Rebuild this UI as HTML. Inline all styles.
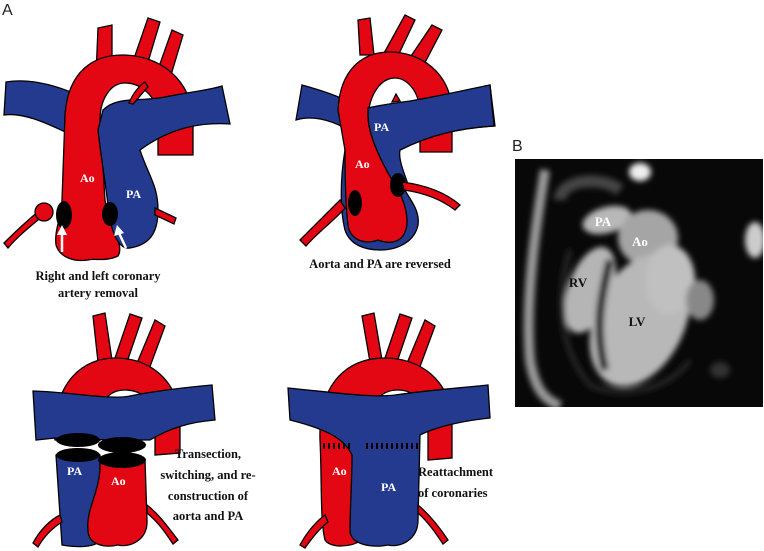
<!DOCTYPE html>
<html><head><meta charset="utf-8"><style>
html,body{margin:0;padding:0;background:#fff;width:764px;height:551px;overflow:hidden}
svg{display:block}
.r{fill:#e30613;stroke:#000;stroke-width:1.3}
.b{fill:#233a8f;stroke:#000;stroke-width:1.3}
.k{fill:#000}
.lbl{font-family:"Liberation Serif",serif;font-weight:bold;font-size:12px;fill:#fff}
.cap{font-family:"Liberation Serif",serif;font-weight:bold;font-size:12.5px;fill:#111}
.big{font-family:"Liberation Sans",sans-serif;font-size:16px;fill:#222}
</style></head><body>
<svg width="764" height="551" viewBox="0 0 764 551" xmlns="http://www.w3.org/2000/svg">
<defs>
<filter id="bl" x="-20%" y="-20%" width="140%" height="140%"><feGaussianBlur stdDeviation="3"/></filter>
<clipPath id="mc"><rect x="515" y="159" width="248" height="248"/></clipPath>
</defs>
<text x="2" y="15" class="big">A</text>
<text x="512" y="151" class="big">B</text>

<!-- PANEL 1 -->
<g>
<path class="r" d="M96 75 L98 28 L112 25 L112 72 Z"/>
<path class="r" d="M130 70 L148 18 L160 22 L145 72 Z"/>
<path class="r" d="M155 78 L172 30 L183 35 L168 85 Z"/>
<path class="b" d="M6 82 C30 78 55 85 78 95 L72 135 C50 125 25 112 4 115 Z"/>
<path class="r" d="M65 115 C68 70 95 55 122 55 C160 55 192 80 193 120 L193 155 L158 155 L158 115 C156 95 140 83 125 83 C110 83 100 100 100 120 L105 200 C110 230 125 245 118 256 C105 262 95 258 88 260 C75 262 60 258 56 245 C54 230 62 215 62 200 Z"/>
<path class="b" d="M103 110 C118 95 140 103 170 96 C190 92 210 90 222 86 L230 124 C200 122 170 128 140 150 C148 175 158 185 158 210 C158 235 148 245 130 248 C118 250 110 230 108 205 C105 180 100 150 98 130 Z"/>
<path class="r" d="M129 103 C133 93 140 85 145 82 L148 87 C142 93 137 100 133 104 Z"/>
<ellipse class="k" cx="64" cy="215" rx="8" ry="14"/>
<ellipse class="k" cx="110" cy="214" rx="8" ry="12"/>
<path class="r" d="M4 243 C15 232 28 220 40 210 L44 215 C32 225 18 236 8 248 Z"/>
<circle class="r" cx="44" cy="212" r="9"/>
<path class="r" d="M155 208 L176 218 L174 224 L155 215 Z"/>
<path d="M62 252 L62 232" stroke="#fff" stroke-width="2.5"/>
<path d="M57 235 L62 225 L67 235 Z" fill="#fff"/>
<path d="M126 248 L119 233" stroke="#fff" stroke-width="2.5"/>
<path d="M114 236 L117 225 L124 233 Z" fill="#fff"/>
<text x="80" y="182" class="lbl">Ao</text>
<text x="126" y="198" class="lbl">PA</text>
<text x="98" y="280" class="cap" text-anchor="middle">Right and left coronary</text>
<text x="98" y="297" class="cap" text-anchor="middle">artery removal</text>
</g>

<!-- PANEL 2 -->
<g>
<path class="r" d="M360 55 L358 20 L370 18 L374 55 Z"/>
<path class="r" d="M383 55 L405 15 L415 20 L396 60 Z"/>
<path class="r" d="M405 65 L432 25 L442 30 L420 72 Z"/>
<path class="b" d="M302 85 C320 90 335 95 345 100 L345 150 C340 180 340 210 345 230 C350 245 365 250 380 250 C400 250 415 240 418 225 C420 210 410 200 405 190 C400 170 395 160 400 150 C430 135 460 128 495 126 L490 85 C460 92 430 98 400 105 L385 110 L350 130 L345 128 C330 120 312 115 296 120 Z"/>
<path class="r" d="M338 110 C340 70 362 52 390 52 C420 52 450 72 452 110 L452 152 L420 152 L420 110 C418 88 405 78 395 78 C380 78 370 95 368 115 C368 135 380 160 395 185 C405 200 410 220 405 232 C400 245 385 243 378 240 C365 245 350 240 348 225 C346 210 345 180 345 150 Z"/>
<path class="b" d="M368 108 C380 105 395 103 410 101 C440 96 465 90 490 85 L494 126 C460 128 430 135 400 150 C398 160 405 175 410 190 L395 185 C380 160 368 135 368 115 Z"/>
<path class="r" d="M392 102 L396 94 L400 101 Z"/>
<ellipse class="k" cx="355" cy="203" rx="7" ry="13"/>
<ellipse class="k" cx="398" cy="185" rx="8" ry="12"/>
<path class="r" d="M300 240 C315 225 330 210 340 200 L345 208 C335 220 318 232 306 246 Z"/>
<path class="r" d="M402 182 C425 185 445 192 460 205 L455 210 C442 200 425 193 404 190 Z"/>
<text x="374" y="131" class="lbl">PA</text>
<text x="355" y="168" class="lbl">Ao</text>
<text x="380" y="268" class="cap" text-anchor="middle">Aorta and PA are reversed</text>
</g>

<!-- PANEL 3 -->
<g>
<path class="r" d="M98 362 L93 316 L105 313 L112 360 Z"/>
<path class="r" d="M115 358 L130 314 L142 318 L127 362 Z"/>
<path class="r" d="M135 368 L155 320 L165 326 L148 372 Z"/>
<path class="r" d="M55 440 C52 380 85 358 115 358 C150 358 178 380 180 420 L180 453 L155 455 L155 420 C153 398 140 390 125 390 C110 390 100 400 100 420 L100 440 Z"/>
<path class="b" d="M33 391 C70 392 110 400 130 396 C160 390 190 387 212 385 L215 420 C190 422 170 428 150 440 C120 440 80 440 55 438 L36 440 Z"/>
<ellipse class="k" cx="78" cy="440" rx="22" ry="7"/>
<ellipse class="k" cx="122" cy="445" rx="24" ry="8"/>
<path class="b" d="M56 455 C70 448 90 448 100 455 L104 535 C100 548 80 548 62 545 Z"/>
<ellipse class="k" cx="78" cy="455" rx="22" ry="7"/>
<path class="r" d="M100 460 C110 453 135 453 145 460 L147 520 C148 540 130 548 118 545 C105 548 88 545 88 530 C86 510 98 495 100 470 Z"/>
<ellipse class="k" cx="122" cy="460" rx="24" ry="8"/>
<path class="r" d="M33 543 C40 530 50 520 60 515 L62 522 C54 527 45 535 38 547 Z"/>
<path class="r" d="M147 505 C160 515 170 530 178 540 L173 544 C165 532 158 522 147 513 Z"/>
<text x="67" y="475" class="lbl">PA</text>
<text x="111" y="485" class="lbl">Ao</text>
<text x="208" y="458" class="cap" text-anchor="middle">Transection,</text>
<text x="208" y="479" class="cap" text-anchor="middle">switching, and re-</text>
<text x="208" y="500" class="cap" text-anchor="middle">construction of</text>
<text x="208" y="520" class="cap" text-anchor="middle">aorta and PA</text>
</g>

<!-- PANEL 4 -->
<g>
<path class="r" d="M370 362 L362 316 L374 313 L382 360 Z"/>
<path class="r" d="M385 358 L400 314 L412 318 L397 362 Z"/>
<path class="r" d="M405 368 L425 320 L435 326 L418 372 Z"/>
<path class="r" d="M320 440 C318 380 350 358 385 358 C420 358 450 380 452 420 L452 458 L428 460 L428 420 C426 400 412 390 398 390 C382 390 372 400 372 420 L362 440 L362 540 C350 548 330 548 325 540 C320 520 322 480 320 440 Z"/>
<path class="b" d="M288 388 C330 392 370 398 395 395 C430 390 460 388 488 385 L490 418 C470 420 440 425 420 435 L418 520 C418 540 400 548 388 545 C372 548 350 545 350 530 C350 510 352 480 352 455 C345 440 330 430 290 420 Z"/>
<g stroke="#000" stroke-width="6">
<path d="M323 446 h28" stroke-dasharray="2 3"/>
<path d="M366 446 h52" stroke-dasharray="2 3"/>
</g>
<path class="r" d="M300 545 C308 530 318 520 325 515 L328 522 C320 528 312 538 305 548 Z"/>
<path class="r" d="M418 505 C430 515 440 528 448 540 L443 544 C435 532 428 522 418 513 Z"/>
<text x="332" y="475" class="lbl">Ao</text>
<text x="381" y="491" class="lbl">PA</text>
<text x="418" y="476" class="cap">Reattachment</text>
<text x="418" y="497" class="cap">of coronaries</text>
</g>

<!-- MRI -->
<rect x="515" y="159" width="248" height="248" fill="#080808"/>
<g clip-path="url(#mc)">
<g filter="url(#bl)">
<path d="M545 170 C535 230 525 300 530 360 C535 390 545 400 560 406" stroke="#9a9a9a" stroke-width="10" fill="none"/>
<path d="M560 200 C560 180 600 175 620 190" stroke="#444" stroke-width="12" fill="none"/>
<ellipse cx="640" cy="172" rx="11" ry="9" fill="#eee"/>
<ellipse cx="755" cy="240" rx="10" ry="18" fill="#ccc"/>
<ellipse cx="607" cy="220" rx="25" ry="13" fill="#b8b8b8" transform="rotate(-15 607 220)"/>
<ellipse cx="648" cy="238" rx="30" ry="28" fill="#a5a5a5"/>
<ellipse cx="590" cy="290" rx="22" ry="45" fill="#b5b5b5" transform="rotate(20 590 290)"/>
<ellipse cx="640" cy="320" rx="45" ry="70" fill="#b8b8b8" transform="rotate(25 640 320)"/>
<ellipse cx="670" cy="280" rx="25" ry="35" fill="#c0c0c0"/>
<ellipse cx="700" cy="300" rx="14" ry="20" fill="#888"/>
<path d="M610 260 C600 300 595 330 605 370" stroke="#111" stroke-width="8" fill="none"/>
<path d="M570 250 C555 300 560 350 590 385 C620 400 670 390 690 360" stroke="#222" stroke-width="6" fill="none"/>
<ellipse cx="720" cy="370" rx="10" ry="8" fill="#333"/>
</g>
</g>
<text x="603" y="226" class="lbl" text-anchor="middle" style="font-size:13px">PA</text>
<text x="640" y="246" class="lbl" text-anchor="middle" style="font-size:13px">Ao</text>
<text x="578" y="287" class="lbl" text-anchor="middle" style="font-size:13px;fill:#111">RV</text>
<text x="637" y="326" class="lbl" text-anchor="middle" style="font-size:13px;fill:#111">LV</text>
</svg>
</body></html>
